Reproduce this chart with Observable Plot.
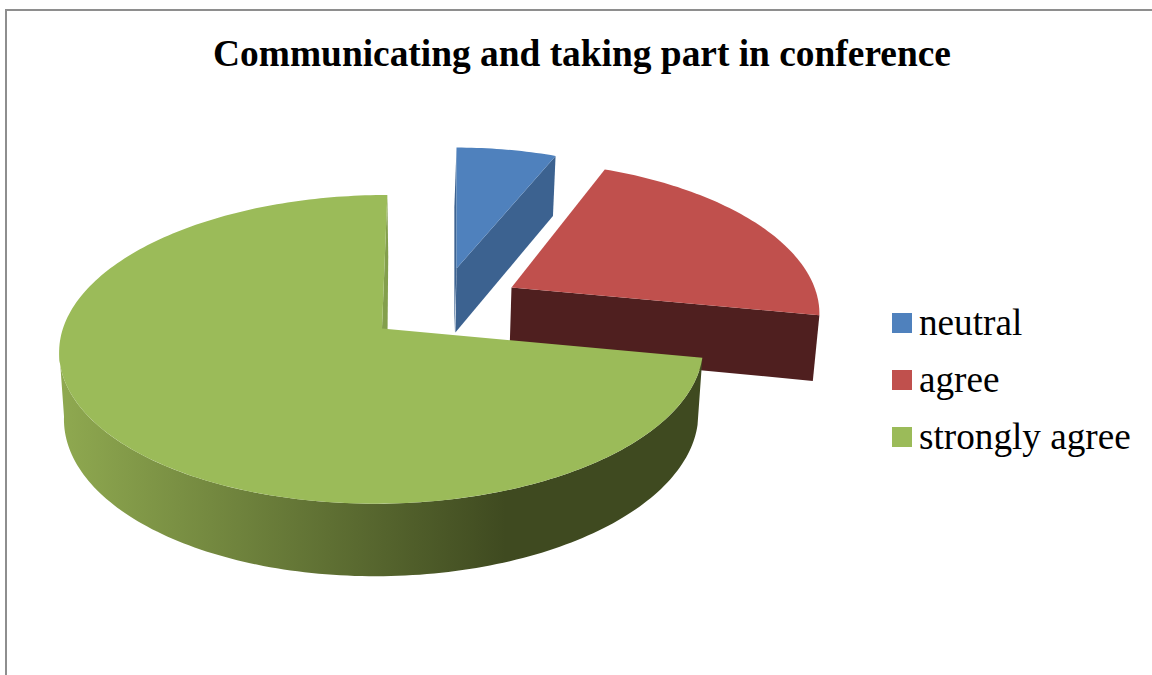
<!DOCTYPE html>
<html>
<head>
<meta charset="utf-8">
<script src="https://cdn.jsdelivr.net/npm/d3@7"></script>
<script src="https://cdn.jsdelivr.net/npm/@observablehq/plot@0.6"></script>
<style>
  html, body { margin: 0; padding: 0; background: #fff; overflow: hidden; }
  #page { position: relative; width: 1152px; height: 675px; overflow: hidden; font-family: "Liberation Serif", serif; color: #000; }
  #frame { position: absolute; left: 5px; top: 9px; width: 1200px; height: 800px; border: 2px solid #8e8e8e; box-sizing: border-box; }
  #title { position: absolute; left: 6px; width: 1152px; top: 33px; margin: 0; text-align: center; font-size: 37.4px; line-height: 42px; font-weight: bold; white-space: nowrap; }
  #chart { position: absolute; left: 0; top: 90px; }
  #chart svg { display: block; background: none; }
  #legend { position: absolute; left: 892px; top: 302px; }
  .entry { position: absolute; left: 0; white-space: nowrap; font-size: 37.2px; line-height: 40px; height: 40px; }
  .entry i { position: absolute; left: 0; top: 11px; width: 20px; height: 20px; }
  .entry span { position: absolute; left: 27px; top: 1px; }
</style>
</head>
<body>
<div id="page">
  <div id="frame"></div>
  <h1 id="title"></h1>
  <div id="chart"></div>
  <div id="legend"></div>
</div>
<script>
const titleText = "Communicating and taking part in conference";
const categories = ["neutral", "agree", "strongly agree"];
const shares = [6.3, 21.7, 72];

const topColors = ["#4f81bd", "#c0504d", "#9bbb59"];
const wallColors = ["#3c6290", "#4f1f1f", "#839f4c"];

// Perspective of the pie's disc, in page units.
const radius = 320, tilt = 152, foreshorten = 0.135;
// Where each exploded slice sits: apex, scale and shear.
const placement = [
  {cx: 456, cy: 268, scale: 0.903, shear: 0},
  {cx: 511, cy: 287, scale: 0.947, shear: 0.09},
  {cx: 381.5, cy: 328, scale: 0.997, shear: -0.04}
];
const slices = d3.pairs(d3.cumsum([0, ...shares])).map(([from, to], i) => ({
  category: categories[i],
  start: (from / 100) * 2 * Math.PI,
  end: (to / 100) * 2 * Math.PI,
  ...placement[i]
}));

// Project an angle on a slice's rim onto the page.
function rim(s, a) {
  const d = 1 + foreshorten * Math.cos(a);
  const dy = -s.scale * tilt * Math.cos(a) / d;
  return {x: s.cx + s.scale * radius * Math.sin(a) / d + s.shear * dy, y: s.cy + dy};
}
// Drop a top-surface point to the underside of the pie.
function under(p, lean = 0) {
  return {x: p.x - (p.x - 380) * 0.015 + lean, y: p.y + 60 + (p.y - 155) * 0.036};
}
function arc(s, a0, a1) {
  const n = Math.max(2, Math.ceil(Math.abs(a1 - a0) / 0.02));
  return d3.range(n + 1).map(i => rim(s, a0 + (a1 - a0) * i / n));
}
const apex = s => ({x: s.cx, y: s.cy});

const topFace = s => [apex(s), ...arc(s, s.start, s.end), apex(s)].map(p => ({...p, category: s.category}));
const cutFace = (s, a, leanRim = 0, leanApex = 0) => {
  const r = rim(s, a), c = apex(s);
  return [c, r, under(r, leanRim), under(c, leanApex)];
};

const [neutral, agree, strong] = slices;
// The front wall stops at the disc's leftmost point, where the rim turns away.
const wallEnd = (Math.PI * 2) - Math.acos(-foreshorten);
const greenFront = arc(strong, strong.start, wallEnd);
const greenWall = [...greenFront, ...greenFront.slice().reverse().map(p => under(p))];

const xy = {x: "x", y: "y", curve: "linear", stroke: "none"};

const shading = () => {
  const defs = d3.create("svg:defs");
  const g = defs.append("linearGradient")
    .attr("id", "frontWall")
    .attr("gradientUnits", "userSpaceOnUse")
    .attr("x1", 60).attr("x2", 505).attr("y1", 0).attr("y2", 0);
  g.append("stop").attr("offset", 0).attr("stop-color", "#8fa950");
  g.append("stop").attr("offset", 1).attr("stop-color", "#3f4a20");
  return defs.node();
};

const plot = Plot.plot({
  width: 1152,
  height: 585,
  margin: 0,
  x: {domain: [0, 1152], range: [0, 1152], axis: null},
  y: {domain: [90, 675], range: [0, 585], axis: null},
  color: {domain: categories, range: topColors},
  marks: [
    shading,
    // neutral slice
    Plot.line(cutFace(neutral, neutral.start, -1, -1), {...xy, fill: wallColors[0]}),
    Plot.line(cutFace(neutral, neutral.end), {...xy, fill: wallColors[0]}),
    Plot.line(topFace(neutral), {...xy, fill: "category"}),
    // agree slice
    Plot.line(cutFace(agree, agree.end), {...xy, fill: wallColors[1]}),
    Plot.line(topFace(agree), {...xy, fill: "category"}),
    // strongly agree slice, with its sliver of back cut and shaded front
    Plot.line(cutFace(strong, strong.end, 1, 5), {...xy, fill: wallColors[2]}),
    Plot.line(greenWall, {...xy, fill: "url(#frontWall)"}),
    Plot.line(topFace(strong), {...xy, fill: "category"})
  ]
});
document.getElementById("chart").append(plot);
document.getElementById("title").textContent = titleText;

const color = plot.scale("color");
const legend = d3.select("#legend");
categories.forEach((c, i) => {
  const e = legend.append("div").attr("class", "entry").style("top", `${i * 57}px`);
  e.append("i").style("background", color.apply(c));
  e.append("span").text(c);
});
</script>
</body>
</html>
